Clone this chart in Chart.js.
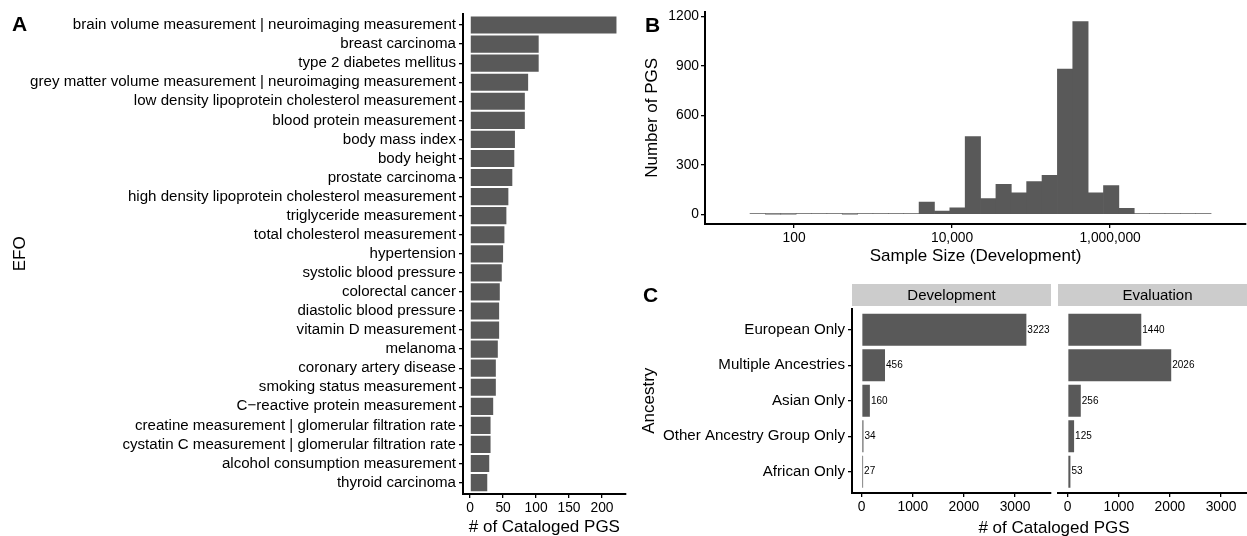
<!DOCTYPE html>
<html><head><meta charset="utf-8">
<script src="https://cdn.jsdelivr.net/npm/chart.js@4.4.0/dist/chart.umd.min.js"></script>
<style>
html,body{margin:0;padding:0;background:#fff;overflow:hidden;width:1247px;height:536px;position:relative;}
canvas{position:absolute;}
.lbl{position:absolute;font-family:'Liberation Sans',Arial,Helvetica,sans-serif;color:#000;white-space:nowrap;}
.panel{font-weight:bold;font-size:21px;line-height:21px;}
.strip{background:#cccccc;font-size:15px;text-align:center;line-height:22px;height:22px;}
.ttl{font-size:17px;line-height:17px;text-align:center;}
</style></head><body>
<canvas id="cA" width="640" height="536" style="left:0;top:0"></canvas>
<canvas id="cB" width="607" height="272" style="left:640px;top:0"></canvas>
<canvas id="cC1" width="414" height="264" style="left:640px;top:272px"></canvas>
<canvas id="cC2" width="210" height="264" style="left:1054px;top:272px"></canvas>
<div class="lbl panel" style="left:12px;top:13px">A</div>
<div class="lbl panel" style="left:645px;top:14px">B</div>
<div class="lbl panel" style="left:643px;top:284px">C</div>
<div class="lbl strip" style="left:852px;top:284px;width:199px">Development</div>
<div class="lbl strip" style="left:1058px;top:284px;width:199px">Evaluation</div>
<div class="lbl ttl" style="left:854px;top:519px;width:400px"># of Cataloged PGS</div>
<script>
// ---------- data ----------
const efoLabels = [
  'brain volume measurement | neuroimaging measurement',
  'breast carcinoma',
  'type 2 diabetes mellitus',
  'grey matter volume measurement | neuroimaging measurement',
  'low density lipoprotein cholesterol measurement',
  'blood protein measurement',
  'body mass index',
  'body height',
  'prostate carcinoma',
  'high density lipoprotein cholesterol measurement',
  'triglyceride measurement',
  'total cholesterol measurement',
  'hypertension',
  'systolic blood pressure',
  'colorectal cancer',
  'diastolic blood pressure',
  'vitamin D measurement',
  'melanoma',
  'coronary artery disease',
  'smoking status measurement',
  'C\u2212reactive protein measurement',
  'creatine measurement | glomerular filtration rate',
  'cystatin C measurement | glomerular filtration rate',
  'alcohol consumption measurement',
  'thyroid carcinoma'
];
const efoCounts = [222,104,104,88,83,83,68,67,64,58,55,52,50,48,45,44,44,42,39,39,35,31,31,29,26];
const efoTicks = [0,50,100,150,200];

const histCounts = [5,1,1,5,5,5,1,5,5,5,5,75,20,40,472,95,182,130,198,237,880,1168,130,174,37,5,5,5,5,5];
const histBinStartLog = 1.443;   // log10 of lower edge of first bin
const histBinWidthLog = 0.1945;  // bin width in log10 units
const sampleTickValues = [100,10000,1000000];
const sampleTickLabels = ['100','10,000','1,000,000'];
const pgsTicks = [0,300,600,900,1200];

const ancestries = ['European Only','Multiple Ancestries','Asian Only','Other Ancestry Group Only','African Only'];
const devCounts = [3223,456,160,34,27];
const evalCounts = [1440,2026,256,125,53];
const facetTicks = [0,1000,2000,3000];

// ---------- style ----------
const FONT = "'Liberation Sans', Arial, Helvetica, sans-serif";
const BAR = '#595959';
const NUM = 13.8, CAT = 15.1;
Chart.defaults.font.family = FONT;
Chart.defaults.color = '#000';
Chart.defaults.animation = false;

function grid(){ return {display:true, offset:false, drawOnChartArea:false, drawTicks:true, tickLength:4, color:'#000', lineWidth:1.3}; }
function border(){ return {display:true, color:'#000', width:2}; }
const plain = v => String(v);
const basePlugins = {legend:{display:false}, tooltip:{enabled:false}};

// ---------- Panel A ----------
new Chart(document.getElementById('cA'), {
  type:'bar',
  data:{datasets:[{data: efoCounts.map((v,i)=>({x:v,y:i})), backgroundColor:BAR, borderWidth:0,
    barPercentage:0.9, categoryPercentage:1}]},
  options:{
    responsive:false, devicePixelRatio:1, indexAxis:'y',
    layout:{padding:{left:0,right:14.3,top:13.6,bottom:0}},
    plugins:basePlugins,
    scales:{
      x:{type:'linear', position:'bottom', offset:false, min:-10.8, max:236,
        afterBuildTicks:s=>{s.ticks = efoTicks.map(v=>({value:v}));},
        afterFit:s=>{s.height = 42;},
        border:border(), grid:grid(),
        ticks:{color:'#000', font:{size:NUM}, padding:2, maxRotation:0, autoSkip:false, callback:plain},
        title:{display:true, text:'# of Cataloged PGS', color:'#000', font:{size:17, lineHeight:1}, padding:{top:0,bottom:0.2}}
      },
      y:{type:'linear', position:'left', offset:false, reverse:true, min:-0.6, max:24.6,
        afterBuildTicks:s=>{s.ticks = efoLabels.map((_,i)=>({value:i}));},
        afterFit:s=>{s.width = 463;},
        border:border(), grid:grid(),
        ticks:{color:'#000', font:{size:CAT}, padding:3, autoSkip:false, callback:v=>efoLabels[v]},
        title:{display:true, text:'EFO', color:'#000', font:{size:17, lineHeight:1}, padding:{top:11.5,bottom:0}}
      }
    }
  }
});

// ---------- Panel B ----------
new Chart(document.getElementById('cB'), {
  type:'bar',
  data:{datasets:[{data: histCounts.map((c,k)=>({x: histBinStartLog + (k+0.5)*histBinWidthLog, y:c})),
    backgroundColor:BAR, borderWidth:0, barPercentage:1, categoryPercentage:1}]},
  options:{
    responsive:false, devicePixelRatio:1,
    layout:{padding:{left:0,right:1,top:11.7,bottom:0}},
    plugins:basePlugins,
    scales:{
      x:{type:'linear', position:'bottom', offset:false, min:0.873, max:7.72,
        afterBuildTicks:s=>{s.ticks = sampleTickValues.map(v=>({value:Math.log10(v)}));},
        afterFit:s=>{s.height = 48;},
        border:border(), grid:grid(),
        ticks:{color:'#000', font:{size:NUM}, padding:2, maxRotation:0, autoSkip:false,
          callback:v=>{const i = sampleTickValues.findIndex(t=>Math.abs(Math.log10(t)-v)<1e-6); return i<0?'':sampleTickLabels[i];}},
        title:{display:true, text:'Sample Size (Development)', color:'#000', font:{size:17, lineHeight:1}, padding:{top:0,bottom:6.8}}
      },
      y:{type:'linear', position:'left', offset:false, min:-58.5, max:1228.5,
        afterBuildTicks:s=>{s.ticks = pgsTicks.map(v=>({value:v}));},
        afterFit:s=>{s.width = 65;},
        border:border(), grid:grid(),
        ticks:{color:'#000', font:{size:NUM}, padding:2, autoSkip:false, callback:plain},
        title:{display:true, text:'Number of PGS', color:'#000', font:{size:17, lineHeight:1}, padding:{top:4,bottom:0}}
      }
    }
  }
});

// ---------- Panel C ----------
const valueLabels = {
  id:'valueLabels',
  afterDatasetsDraw(chart){
    const ctx = chart.ctx, ds = chart.data.datasets[0], meta = chart.getDatasetMeta(0);
    ctx.save();
    ctx.font = "10px " + FONT; ctx.fillStyle = '#000'; ctx.textAlign = 'left'; ctx.textBaseline = 'middle';
    meta.data.forEach((bar,i)=>{ ctx.fillText(String(ds.data[i].x), bar.x + 1, bar.y); });
    ctx.restore();
  }
};
function facet(id, counts, showY, pad){
  return new Chart(document.getElementById(id), {
    type:'bar',
    data:{datasets:[{data: counts.map((v,i)=>({x:v,y:i})), backgroundColor:BAR, borderWidth:0,
      barPercentage:0.9, categoryPercentage:1}]},
    options:{
      responsive:false, devicePixelRatio:1, indexAxis:'y',
      layout:{padding:pad},
      plugins:basePlugins,
      scales:{
        x:{type:'linear', position:'bottom', offset:false, min:-190, max:3705,
          afterBuildTicks:s=>{s.ticks = facetTicks.map(v=>({value:v}));},
          afterFit:s=>{s.height = 43;},
          border:border(), grid:grid(),
          ticks:{color:'#000', font:{size:NUM}, padding:2, maxRotation:0, autoSkip:false, callback:plain}
        },
        y:{type:'linear', position:'left', offset:false, reverse:true, min:-0.6, max:4.6, display:showY,
          afterBuildTicks:s=>{s.ticks = ancestries.map((_,i)=>({value:i}));},
          afterFit:s=>{ if(showY) s.width = 212; },
          border:border(), grid:grid(),
          ticks:{color:'#000', font:{size:CAT}, padding:3, autoSkip:false, callback:v=>ancestries[v]},
          title:{display:true, text:'Ancestry', color:'#000', font:{size:17, lineHeight:1}, padding:{top:0.5,bottom:0}}
        }
      }
    },
    plugins:[valueLabels]
  });
}
facet('cC1', devCounts, true, {left:0,right:3,top:36.5,bottom:0});
facet('cC2', evalCounts, false, {left:4,right:7,top:36.5,bottom:0});
</script>
</body></html>
